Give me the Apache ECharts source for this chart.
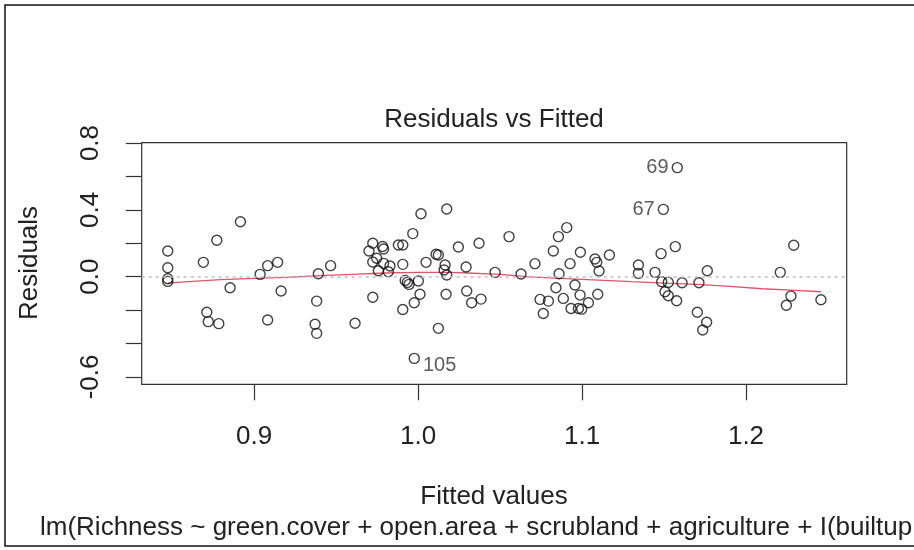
<!DOCTYPE html>
<html>
<head>
<meta charset="utf-8">
<script src="https://cdn.jsdelivr.net/npm/echarts@6/dist/echarts.min.js"></script>
<style>
html,body{margin:0;padding:0;background:#fff;}
#chart{width:914px;height:550px;}
</style>
</head>
<body>
<div id="chart"></div>
<script>
// Fitted values and residuals (unlabelled observations)
var fitted = [
  0.8474,0.8474,0.8474,0.8474,0.8691,0.8773,0.8917,0.8854,0.8712,0.8721,0.8785,
  0.9037,0.9083,0.9144,0.9165,0.9083,0.9392,0.9467,0.9382,0.9372,0.9382,0.9616,
  0.9724,0.9701,0.9784,0.9790,0.9748,0.9724,0.9790,0.9758,0.9819,0.9829,0.9724,
  0.9907,0.9880,0.9907,0.9968,1.0018,1.0175,0.9922,0.9935,0.9945,1.0002,1.0012,0.9977,0.9907,
  1.0049,1.0110,1.0124,1.0165,1.0175,1.0159,1.0246,1.0171,1.0124,1.0293,1.0297,1.0327,1.0384,1.0372,
  1.0555,1.0470,1.0628,1.0713,1.0744,1.0795,1.0764,1.0825,1.0856,1.0907,1.0927,1.0860,1.0841,
  1.0886,1.0933,1.0957,1.0990,1.0988,1.0978,1.0998,1.1039,1.1096,1.1079,1.1090,1.1104,
  1.1167,1.1344,1.1344,1.1445,1.1482,1.1569,1.1486,1.1526,1.1506,1.1526,1.1577,1.1610,
  1.1713,1.1764,1.1703,1.1760,1.1736,
  1.2291,1.2209,1.2274,1.2246,1.2457
];
var residuals = [
  0.154,0.054,-0.012,-0.028,0.086,0.218,0.329,-0.066,-0.213,-0.269,-0.281,
  0.014,0.066,0.086,-0.086,-0.259,0.018,0.066,-0.146,-0.285,-0.339,-0.279,
  0.200,0.154,0.181,0.166,0.110,0.088,0.080,0.036,0.030,0.064,-0.123,
  0.074,0.190,0.190,0.258,0.377,0.405,-0.022,-0.034,-0.046,-0.026,-0.105,-0.156,-0.196,
  0.086,0.134,0.130,0.070,0.010,0.040,0.178,-0.105,-0.309,0.058,-0.086,-0.156,-0.134,0.200,
  0.240,0.026,0.016,0.078,-0.136,-0.146,-0.220,0.154,0.240,0.294,0.078,0.018,-0.066,
  -0.130,-0.190,-0.050,0.146,-0.110,-0.190,-0.194,-0.156,-0.105,0.106,0.086,0.034,
  0.130,0.070,0.020,0.026,0.138,0.180,-0.030,-0.034,-0.090,-0.114,-0.144,-0.036,
  -0.036,0.036,-0.213,-0.273,-0.319,
  0.188,0.026,-0.116,-0.171,-0.138
];
// Labelled (extreme) observations
var idNames = ['69', '67', '105'];
var idFitted = [1.1581, 1.1496, 0.9977];
var idResid = [0.653, 0.403, -0.489];
// Smoothed (lowess) curve
var smoothX = [0.8474,0.86,0.88,0.90,0.92,0.94,0.96,0.98,1.00,1.02,1.03,1.05,1.07,1.09,1.11,1.13,1.15,1.17,1.19,1.21,1.23,1.2457];
var smoothY = [-0.038,-0.030,-0.018,-0.010,-0.004,0.006,0.014,0.022,0.026,0.026,0.022,0.014,-0.002,-0.012,-0.020,-0.030,-0.038,-0.046,-0.058,-0.072,-0.082,-0.090];
// Tick values
var xTicks = [0.9, 1.0, 1.1, 1.2];
var yTicks = [-0.6, -0.4, -0.2, 0.0, 0.2, 0.4, 0.6, 0.8];
var yTickLabels = [-0.6, 0.0, 0.4, 0.8];

var titleText = 'Residuals vs Fitted';
var xName = 'Fitted values';
var yName = 'Residuals';
var subText = 'lm(Richness ~ green.cover + open.area + scrubland + agriculture + I(builtup.area^2))';

var FONT = '"Liberation Sans", Arial, sans-serif';

var chart = echarts.init(document.getElementById('chart'), null, {renderer: 'canvas'});

var pts = fitted.map(function (x, i) { return [x, residuals[i]]; });
var idPts = idFitted.map(function (x, i) {
  var left = i < 2;
  return {
    value: [x, idResid[i]],
    label: {
      show: true,
      formatter: idNames[i],
      position: left ? 'left' : 'right',
      offset: left ? [0, 0] : [0, 7],
      distance: 3,
      color: '#333',
      fontSize: 20,
      fontFamily: FONT
    }
  };
});
var smooth = smoothX.map(function (x, i) { return [x, smoothY[i]]; });

var circleStyle = {color: 'rgba(0,0,0,0)', borderColor: '#111', borderWidth: 1.4};

chart.setOption({
  animation: false,
  backgroundColor: '#fff',
  grid: {left: 141.7, top: 142.7, width: 705, height: 241.6, show: true,
         borderColor: '#333', borderWidth: 1.2, backgroundColor: 'transparent'},
  xAxis: {
    type: 'value', min: 0.8315, max: 1.2614,
    axisLine: {show: false, onZero: false},
    splitLine: {show: false},
    axisTick: {show: true, length: 16, lineStyle: {color: '#333', width: 1.2}, customValues: xTicks},
    axisLabel: {customValues: xTicks, margin: 40, fontSize: 26, color: '#222', fontFamily: FONT,
                formatter: function (v) { return v.toFixed(1); }}
  },
  yAxis: {
    type: 'value', min: -0.644, max: 0.802,
    axisLine: {show: false, onZero: false},
    splitLine: {show: false},
    axisTick: {show: true, length: 16, lineStyle: {color: '#333', width: 1.2}, customValues: yTicks},
    axisLabel: {customValues: yTickLabels, rotate: 90, margin: 38, fontSize: 26, color: '#222', fontFamily: FONT,
                formatter: function (v) { return v.toFixed(1); }}
  },
  series: [
    {
      type: 'line', data: smooth, showSymbol: false, symbol: 'none', silent: true,
      lineStyle: {color: '#DF536B', width: 1.3}, z: 3,
      markLine: {
        silent: true, symbol: 'none', label: {show: false},
        lineStyle: {color: '#bebebe', type: [3, 4], width: 1.5},
        data: [{yAxis: 0}]
      }
    },
    {type: 'scatter', data: pts, symbol: 'circle', symbolSize: 10, itemStyle: circleStyle, z: 4},
    {type: 'scatter', data: idPts, symbol: 'circle', symbolSize: 10, itemStyle: circleStyle, z: 4}
  ],
  graphic: [
    {type: 'rect', shape: {x: 5, y: 5, width: 1000, height: 541}, style: {fill: 'none', stroke: '#111', lineWidth: 1.5}, silent: true},
    {type: 'text', x: 494, y: 120, style: {text: titleText, font: '26px ' + FONT, fill: '#222', textAlign: 'center', textVerticalAlign: 'middle'}},
    {type: 'text', x: 494, y: 497, style: {text: xName, font: '26px ' + FONT, fill: '#222', textAlign: 'center', textVerticalAlign: 'middle'}},
    {type: 'text', x: 40, y: 528, style: {text: subText, font: '26px ' + FONT, fill: '#222', textAlign: 'left', textVerticalAlign: 'middle'}},
    {type: 'text', x: 30, y: 263, rotation: Math.PI / 2, style: {text: yName, font: '26px ' + FONT, fill: '#222', textAlign: 'center', textVerticalAlign: 'middle'}}
  ]
});
</script>
</body>
</html>
